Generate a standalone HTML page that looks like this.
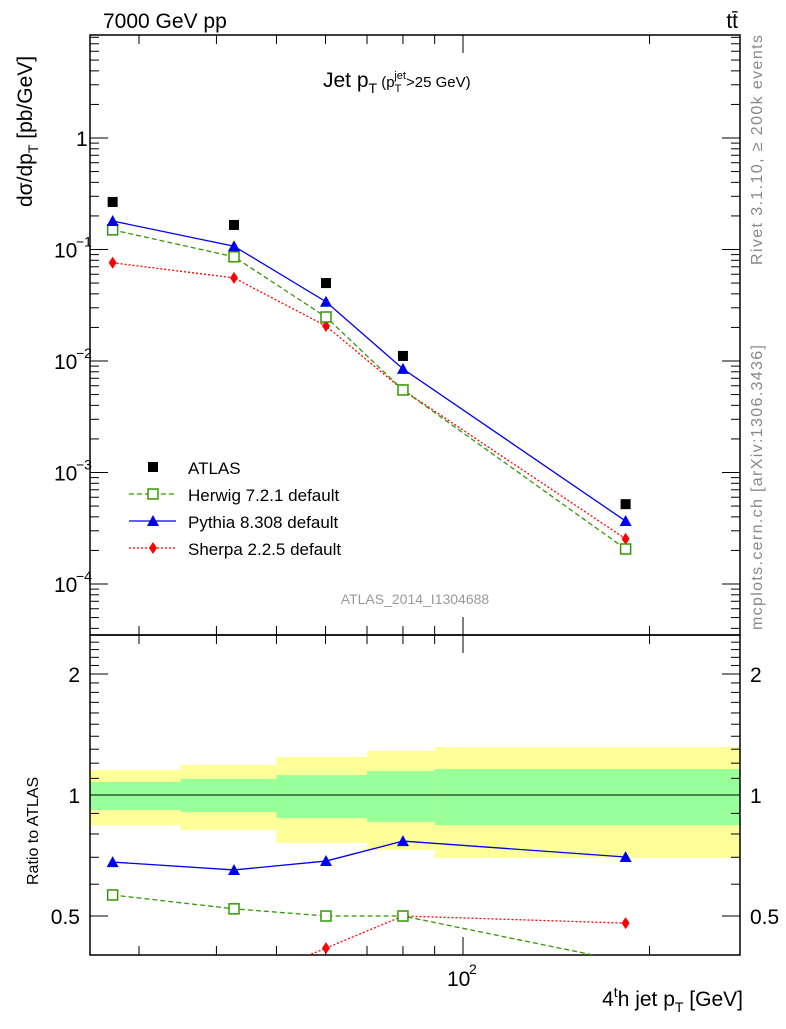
<!DOCTYPE html>
<html><head><meta charset="utf-8"><style>
body{margin:0;background:#fff;width:786px;height:1024px;overflow:hidden}
svg{font-family:"Liberation Sans",sans-serif}
</style></head><body>
<svg id="c" width="786" height="1024" xmlns="http://www.w3.org/2000/svg"></svg>
<script>
const xVals=[27.2,42.7,60.1,80,183];
const binEdges=[25,35,50,70,90,280];
const atlas=[0.267,0.166,0.050,0.0111,5.2e-4];
const herwig=[0.15,0.086,0.0248,0.0055,2.06e-4];
const pythia=[0.18,0.107,0.034,0.0085,3.67e-4];
const sherpa=[0.076,0.0556,0.0206,0.0055,2.54e-4];
const rPythia=[0.681,0.651,0.685,0.768,0.701];
const rHerwig=[0.564,0.521,0.5,0.5,0.385];
const rSherpa=[0.285,0.335,0.416,0.5,0.48];
const yelUp=[1.154,1.188,1.243,1.287,1.316];
const yelLo=[0.842,0.818,0.760,0.730,0.697];
const grnUp=[1.077,1.096,1.121,1.147,1.16];
const grnLo=[0.918,0.907,0.876,0.857,0.842];
const mainTicks=[1,0.1,0.01,0.001,0.0001];
const mainTickLabels=["1","10","10","10","10"];
const mainTickExp=["","−1","−2","−3","−4"];
const ratioTicks=[0.5,1,2];

const L=90,R=740,T1=35,B1=635,T2=635,B2=955;
const X=v=>463+619.6*Math.log10(v/100);
const Y=v=>138-111.5*Math.log10(v);
const YR=v=>795-402*Math.log10(v);
const svg=document.getElementById('c');
const NS="http://www.w3.org/2000/svg";
function el(tag,attrs,parent){const e=document.createElementNS(NS,tag);for(const k in attrs)e.setAttribute(k,attrs[k]);(parent||svg).appendChild(e);return e;}
function txt(x,y,s,attrs){const t=el('text',Object.assign({x:x,y:y},attrs||{}));t.textContent=s;return t;}

for(let i=0;i<5;i++){
 let r=el('rect',{x:X(binEdges[i]),y:YR(yelUp[i]),width:X(binEdges[i+1])-X(binEdges[i]),height:YR(yelLo[i])-YR(yelUp[i]),fill:'#ffff99'});
 
 
 let g=el('rect',{x:X(binEdges[i]),y:YR(grnUp[i]),width:X(binEdges[i+1])-X(binEdges[i]),height:YR(grnLo[i])-YR(grnUp[i]),fill:'#99ff99'});
 
 
}
el('line',{x1:L,x2:R,y1:YR(1),y2:YR(1),stroke:'#000','stroke-width':1});

el('rect',{x:L,y:T1,width:R-L,height:B1-T1,fill:'none',stroke:'#000','stroke-width':1.5});
el('rect',{x:L,y:T2,width:R-L,height:B2-T2,fill:'none',stroke:'#000','stroke-width':1.5});

for(let d=-5;d<=1;d++){for(let m=1;m<10;m++){const v=m*Math.pow(10,d);const y=Y(v);if(y<T1||y>B1)continue;const len=m==1?18:9;
 el('line',{x1:L,x2:L+len,y1:y,y2:y,stroke:'#000'});el('line',{x1:R,x2:R-len,y1:y,y2:y,stroke:'#000'});}}
mainTicks.forEach((v,i)=>{const t=txt(i==0?76:54,Y(v)+8,mainTickLabels[i],{'font-size':21});
 
 
 if(mainTickExp[i]){txt(76,Y(v)-3,mainTickExp[i],{'font-size':14});}});
for(let v=0.3;v<=2.5;v+=0.1){const y=YR(v);if(y<T2||y>B2)continue;const big=[0.5,1,2].some(a=>Math.abs(a-v)<1e-6)?18:9;
 el('line',{x1:L,x2:L+big,y1:y,y2:y,stroke:'#000'});el('line',{x1:R,x2:R-big,y1:y,y2:y,stroke:'#000'});}
ratioTicks.forEach(v=>{txt(80,YR(v)+8,String(v),{'font-size':21,'text-anchor':'end'});txt(750,YR(v)+8,String(v),{'font-size':21});});
for(let d=1;d<=2;d++){for(let m=1;m<10;m++){const v=m*Math.pow(10,d);const x=X(v);if(x<L||x>R)continue;const len=m==1?18:9;
 el('line',{x1:x,x2:x,y1:B1,y2:B1-len,stroke:'#000'});el('line',{x1:x,x2:x,y1:T1,y2:T1+len,stroke:'#000'});
 el('line',{x1:x,x2:x,y1:B2,y2:B2-len,stroke:'#000'});el('line',{x1:x,x2:x,y1:T2,y2:T2+len,stroke:'#000'});}}
txt(447,986,"10",{'font-size':21});txt(469,974,"2",{'font-size':14});

function drawMarker(x,y,color,marker,name,parent){let m;
 if(marker=='sq')m=el('rect',{x:x-5,y:y-5,width:10,height:10,fill:'#000'},parent);
 if(marker=='osq')m=el('rect',{x:x-5,y:y-5,width:10,height:10,fill:'#fff',stroke:color,'stroke-width':1.5},parent);
 if(marker=='tri')m=el('polygon',{points:`${x},${y-6} ${x-6},${y+5} ${x+6},${y+5}`,fill:color},parent);
 if(marker=='dia')m=el('polygon',{points:`${x},${y-6} ${x-4},${y} ${x},${y+6} ${x+4},${y}`,fill:color},parent);
 
 }
function series(vals,color,dash,marker,name){
 const pts=vals.map((v,i)=>[X(xVals[i]),Y(v)]);
 const p=el('polyline',{points:pts.map(p=>p.join(',')).join(' '),fill:'none',stroke:color,'stroke-width':1.3,'stroke-dasharray':dash||'none'});
 
 
 pts.forEach(([x,y])=>drawMarker(x,y,color,marker,name));
}
series(sherpa,'#ff0000','2,2','dia','sherpa');
series(herwig,'#339900','5,3','osq','herwig');
series(pythia,'#0000ee',null,'tri','pythia');
atlas.forEach((v,i)=>drawMarker(X(xVals[i]),Y(v),'#000','sq','atlas'));
const cp=el('clipPath',{id:'rc'});el('rect',{x:L,y:T2,width:R-L,height:B2-T2},cp);
const gR=el('g',{'clip-path':'url(#rc)'});
function rseries(vals,color,dash,marker,name){const pts=vals.map((v,i)=>[X(xVals[i]),YR(v)]);
 const p=el('polyline',{points:pts.map(p=>p.join(',')).join(' '),fill:'none',stroke:color,'stroke-width':1.3,'stroke-dasharray':dash||'none'},gR);
 
 
 pts.forEach(([x,y])=>{if(y>T2&&y<B2-3)drawMarker(x,y,color,marker,name,gR);});}
rseries(rSherpa,'#ff0000','2,2','dia','sherpa-ratio');
rseries(rHerwig,'#339900','5,3','osq','herwig-ratio');
rseries(rPythia,'#0000ee',null,'tri','pythia-ratio');

const lg=[['ATLAS','#000',null,'sq'],['Herwig 7.2.1 default','#339900','5,3','osq'],['Pythia 8.308 default','#0000ee',null,'tri'],['Sherpa 2.2.5 default','#ff0000','2,2','dia']];
lg.forEach((e,i)=>{const y=467+27*i;if(i>0)el('line',{x1:129,x2:176,y1:y,y2:y,stroke:e[1],'stroke-width':1.3,'stroke-dasharray':e[2]||'none'});
 drawMarker(153,y,e[1],e[3],'legend');const t=txt(188,y+7,e[0],{'font-size':17});
 
 });
</script>
<svg width="786" height="1024" style="position:absolute;left:0;top:0">
<text x="103" y="28" font-size="21" font-family="Liberation Sans">7000 GeV pp</text>
<text x="738" y="28" font-size="21" text-anchor="end" font-family="Liberation Sans">tt̄</text>
<text x="323" y="87" font-size="21" font-family="Liberation Sans">Jet p<tspan font-size="14" dy="6">T</tspan><tspan font-size="15" dy="-6"> (p</tspan><tspan font-size="11" dy="5">T</tspan><tspan font-size="11" dx="-7" dy="-13">jet</tspan><tspan font-size="15" dy="8">&gt;25 GeV)</tspan></text>
<text transform="translate(32,207) rotate(-90)" font-size="21" font-family="Liberation Sans">dσ/dp<tspan font-size="14" dy="6">T</tspan><tspan dy="-6"> [pb/GeV]</tspan></text>
<text transform="translate(38,885) rotate(-90)" font-size="16" font-family="Liberation Sans">Ratio to ATLAS</text>
<text x="743" y="1006" font-size="21" text-anchor="end" font-family="Liberation Sans">4<tspan font-size="14" dy="-9">t</tspan><tspan dy="9">h jet p</tspan><tspan font-size="14" dy="6">T</tspan><tspan dy="-6"> [GeV]</tspan></text>
<text x="415" y="604" font-size="14" fill="#999" text-anchor="middle" font-family="Liberation Sans">ATLAS_2014_I1304688</text>
<text transform="translate(762,265) rotate(-90)" font-size="16" textLength="230" fill="#888" font-family="Liberation Sans">Rivet 3.1.10, ≥ 200k events</text>
<text transform="translate(762,630) rotate(-90)" font-size="16" textLength="285" fill="#888" font-family="Liberation Sans">mcplots.cern.ch [arXiv:1306.3436]</text>
</svg>
</body></html>
